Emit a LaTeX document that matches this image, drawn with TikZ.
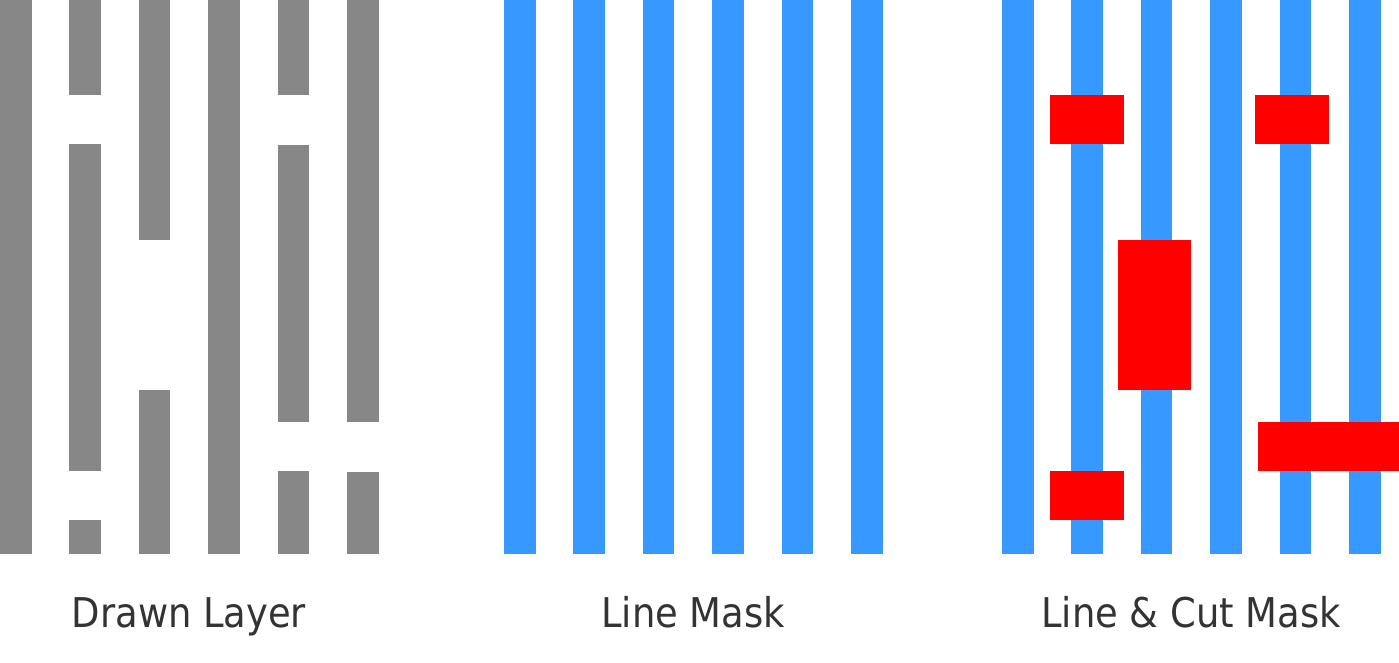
\documentclass[tikz,border=0pt]{standalone}
\usepackage{fontspec}
\setmainfont{DejaVu Sans Condensed}
\definecolor{layergray}{HTML}{878787}
\definecolor{maskblue}{HTML}{3799FF}
\definecolor{cutred}{HTML}{FF0000}
\definecolor{labelgray}{HTML}{333333}

\begin{document}
\begin{tikzpicture}[x=1pt, y=-1pt,
    drawn/.style={fill=layergray},
    mline/.style={fill=maskblue},
    cut/.style={fill=cutred},
    caption/.style={text=labelgray, font=\fontsize{41}{48}\selectfont, anchor=base}]
    \useasboundingbox (0,0) rectangle (1399,662);

    % drawn layer
    \foreach \i/\a/\b in {0/0/554, 1/0/95, 1/144/471, 1/520/554, 2/0/240, 2/390/554,
                          3/0/554, 4/0/95, 4/145/422, 4/471/554, 5/0/422, 5/472/554}
      \fill[drawn] (69.4*\i,\a) rectangle ++(31.5,\b-\a);

    % line masks
    \foreach \i in {0,...,5} {
      \fill[mline] (504+69.4*\i,0) rectangle ++(31.5,554);
      \fill[mline] (1002+69.4*\i,0) rectangle ++(31.5,554);
    }

    % cut mask
    \fill[cut] (1050,95)  rectangle (1124,144);
    \fill[cut] (1255,95)  rectangle (1329,144);
    \fill[cut] (1118,240) rectangle (1191,390);
    \fill[cut] (1258,422) rectangle (1399,471);
    \fill[cut] (1050,471) rectangle (1124,520);

    \node[caption] (drawnlabel) at (189,627.7)  {Drawn Layer};
    \node[caption] (linelabel)  at (693,627.7)  {Line Mask};
    \node[caption] (cutlabel)   at (1191,627.7) {Line \& Cut Mask};
\end{tikzpicture}
\end{document}
